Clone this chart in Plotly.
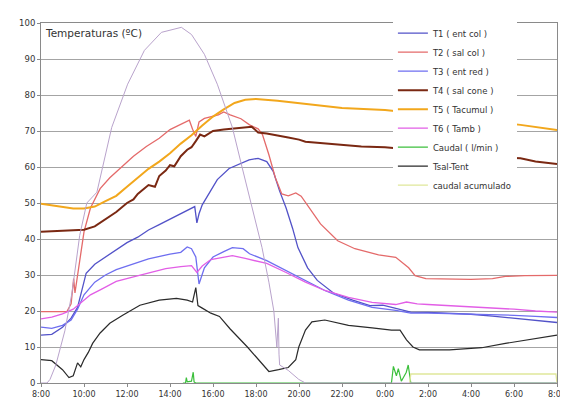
import plotly.graph_objects as go

# ---- data (hours since 0:00 of day 1; values in degC / l/min) ----
tick_vals = [8, 10, 12, 14, 16, 18, 20, 22, 24, 26, 28, 30, 32]
tick_text = ["8:00", "10:00", "12:00", "14:00", "16:00", "18:00", "20:00",
             "22:00", "0:00", "2:00", "4:00", "6:00", "8:00"]

rad_t = [8.0, 8.28, 8.42, 8.69, 9.11, 9.44, 9.8, 10.13, 10.6, 11.29, 12.03, 12.81,
         13.6, 14.2, 14.53, 15.0, 15.6, 16.2, 16.9, 17.35, 17.8, 18.28, 18.6, 18.83,
         18.97, 19.04, 19.07, 19.1, 19.5, 19.99, 20.3, 32.0]
rad_v = [0, 0, 1, 5, 14.5, 25, 41, 50, 53, 71, 83, 92.4,
         97.4, 98.2, 98.8, 96.8, 91.3, 83, 71, 60, 49, 37.6, 28, 20,
         10, 18, 8, 5, 3.5, 1, 0, 0]

t1_t = [8.0, 8.5, 9.0, 9.4, 9.7, 9.9, 10.1, 10.5, 11.0, 11.5, 12.0, 12.5, 13.0, 13.5,
        14.0, 14.5, 15.0, 15.15, 15.25, 15.35, 15.5, 15.8, 16.2, 16.75, 17.2, 17.68,
        18.1, 18.5, 18.8, 19.1, 19.4, 19.7, 19.95, 20.4, 20.85, 21.6, 22.5, 23.3,
        23.9, 24.6, 25.2, 26, 27, 28, 29, 30, 31, 32]
t1_v = [13.3, 13.5, 15.5, 18, 21, 26, 30.5, 33, 35, 37, 39, 40.5, 42.5, 44,
        45.5, 47, 48.5, 49, 44.5, 47, 49.5, 52.5, 56.5, 59.6, 60.7, 62,
        62.4, 61.5, 58.8, 53.3, 48.6, 43, 37.6, 32, 28.5, 25, 23, 21.5,
        21.6, 20.5, 19.7, 19.6, 19.4, 19.1, 18.6, 18.0, 17.4, 16.8]

t2_t = [8.0, 8.5, 9.0, 9.2, 9.4, 9.52, 9.58, 9.75, 10.0, 10.3, 10.75, 11.2, 11.75,
        12.3, 12.9, 13.5, 14.0, 14.6, 14.9, 15.05, 15.2, 15.35, 15.6, 16.25, 16.5,
        16.8, 17.3, 17.7, 18.1, 18.3, 18.6, 18.9, 19.2, 19.5, 19.85, 20.1, 20.6,
        21.0, 21.8, 22.6, 23.7, 24.5, 25.1, 25.4, 25.9, 27, 28, 29, 29.6, 30.5, 32]
t2_v = [19.8, 19.8, 19.8, 19.8, 22, 29, 25, 32, 42, 48.6, 54, 57, 60,
        63, 65.7, 68, 70.4, 72, 73, 70.5, 68.5, 72.5, 73.5, 74.5, 75.3,
        74.5, 73.4, 71.7, 70.6, 69, 63.4, 57, 52.5, 52, 52.8, 51.9, 47.8,
        44.2, 39.5, 37.3, 35.6, 34.9, 32, 29.8, 29, 28.9, 28.8, 29, 29.6, 29.8, 29.9]

t3_t = [8.0, 8.5, 9.0, 9.4, 9.7, 10.0, 10.5, 11.0, 11.5, 12.0, 13.0, 14.0, 14.5, 14.8,
        15.0, 15.2, 15.35, 15.6, 16.0, 16.5, 16.9, 17.4, 17.7, 18.5, 19.4, 20.3,
        21.2, 22.3, 23.4, 24.5, 25.2, 26, 27, 28, 29, 30, 31, 32]
t3_v = [15.5, 15.2, 16, 17.5, 20.5, 24.5, 28, 30, 31.5, 32.5, 34.5, 35.8, 36.3, 37.8,
        37.3, 35, 27.5, 32, 35, 36.5, 37.6, 37.3, 35.9, 34, 31.3, 28.5,
        25.7, 23, 21, 20.2, 19.4, 19.4, 19.3, 19.2, 19.0, 18.8, 18.5, 18.2]

t4_t = [8.0, 8.5, 9.0, 9.5, 10.0, 10.5, 11.0, 11.5, 12.0, 12.3, 12.5, 13.0, 13.3, 13.5,
        13.8, 14.0, 14.2, 14.5, 14.8, 15.0, 15.2, 15.4, 15.6, 16.0, 16.5, 17.0, 17.5,
        17.8, 18.1, 18.5, 19.5, 20.0, 20.3, 21.4, 22.9, 24.0, 25, 26, 27, 28, 29,
        30.3, 31, 32]
t4_v = [42, 42.2, 42.2, 42.4, 42.6, 43.5, 45.5, 47.5, 50, 51, 52.5, 55, 54.5, 57.5,
        59, 60.5, 60.2, 63, 64.8, 65.5, 67.2, 69, 68.5, 70, 70.4, 70.7, 71,
        71.2, 69.6, 69.3, 68.2, 67.6, 67, 66.5, 65.7, 65.5, 65, 64.5, 64, 63.5, 62.8,
        62.4, 61.5, 60.8]

t5_t = [8.0, 8.5, 9.0, 9.5, 10.0, 10.5, 11.0, 11.5, 12.0, 12.5, 13.0, 13.5, 14.0, 14.5,
        15.0, 15.5, 16.0, 16.5, 17.0, 17.5, 18.0, 19.0, 20.0, 21.0, 22.0, 24.0, 26.0,
        28.0, 30.3, 32.0]
t5_v = [49.8, 49.3, 48.8, 48.5, 48.5, 49, 50.5, 52, 54.5, 57, 59.5, 61.5, 63.8, 66.5,
        68.8, 71.5, 74, 76, 77.8, 78.7, 78.9, 78.4, 77.7, 77, 76.4, 75.8, 74.6,
        73.3, 71.7, 70.3]

t6_t = [8.0, 8.5, 9.0, 9.5, 9.8, 10.3, 10.8, 11.5, 12.3, 13.0, 13.8, 14.5, 15.0, 15.25,
        15.5, 15.9, 16.5, 16.9, 17.5, 18.5, 19.4, 20.3, 21.2, 22.3, 23.4, 24.5, 25,
        25.5, 26, 27, 28, 29, 30, 31, 32]
t6_v = [17.8, 18.3, 19.2, 20.5, 22, 24.5, 26, 28.2, 29.5, 30.5, 31.8, 32.3, 32.6, 30.7,
        32.5, 34.3, 35, 35.4, 34.6, 33.2, 30.7, 28, 25.7, 23.8, 22.4, 21.8, 22.5,
        22, 21.8, 21.5, 21, 20.8, 20.5, 20, 19.7]

caudal_t = [14.6, 14.72, 14.76, 14.8, 15.0, 15.08, 15.12, 15.2, 24.3, 24.39, 24.53,
            24.62, 24.76, 24.99, 25.08, 25.2, 32.0]
caudal_v = [0, 0, 1.5, 0.3, 0.5, 3, 0.3, 0, 0, 4.6, 2, 4, 0.5, 3, 5, 0, 0]

acum_t = [25.15, 25.2, 31.95, 32.0]
acum_v = [0, 2.5, 2.5, 0]

tsal_t = [8.0, 8.5, 9.0, 9.3, 9.5, 9.7, 9.85, 10.0, 10.2, 10.4, 10.75, 11.2, 11.8,
          12.6, 13.5, 14.3, 14.8, 15.05, 15.2, 15.3, 15.5, 15.9, 16.3, 16.8, 17.6,
          18.1, 18.6, 19.05, 19.5, 19.85, 19.99, 20.3, 20.6, 21.2, 22.3, 23.4, 24.3,
          24.7, 25.0, 25.3, 25.6, 27, 28.5, 29.6, 31, 32]
tsal_v = [6.5, 6.2, 3.7, 1.5, 2.0, 5.6, 4.5, 6.5, 8.5, 11, 13.9, 16.6, 18.8,
          21.6, 23, 23.5, 23, 22.5, 26.5, 21.5, 20.8, 19.4, 18.5, 15, 10,
          6.5, 3.2, 3.7, 4.3, 6.5, 10, 14.7, 17, 17.5, 16, 15.3, 14.7,
          14.7, 12, 10, 9.2, 9.2, 9.8, 11, 12.3, 13.3]

FONT = "DejaVu Sans, Verdana, sans-serif"

fig = go.Figure()

series = [
    ("T1 ( ent col )", t1_t, t1_v, "#5252c8", 1.3),
    ("T2 ( sal col )", t2_t, t2_v, "#e46a6a", 1.3),
    ("T3 ( ent red )", t3_t, t3_v, "#6e6ef0", 1.3),
    ("T4 ( sal cone )", t4_t, t4_v, "#7a2812", 2.0),
    ("T5 ( Tacumul )", t5_t, t5_v, "#f2a71c", 2.0),
    ("T6 ( Tamb )", t6_t, t6_v, "#e25ee6", 1.3),
    ("Caudal ( l/min )", caudal_t, caudal_v, "#3cbf3c", 1.2),
    ("Tsal-Tent", tsal_t, tsal_v, "#2a2a2a", 1.2),
    ("caudal acumulado", acum_t, acum_v, "#dfe79a", 1.3),
]
for name, xs, ys, col, w in series:
    fig.add_trace(go.Scatter(x=xs, y=ys, mode="lines", name=name,
                             line=dict(color=col, width=w)))

# light curve without legend entry
fig.add_trace(go.Scatter(x=rad_t, y=rad_v, mode="lines", showlegend=False,
                         name="curva", line=dict(color="#b9a3cc", width=1)))

fig.add_annotation(text="Temperaturas (ºC)", xref="paper", yref="paper",
                   x=0.004, y=0.995, xanchor="left", yanchor="top", showarrow=False,
                   font=dict(size=10.5, color="#333333", family=FONT))

fig.update_layout(
    width=568, height=403,
    margin=dict(l=33, r=11, t=10, b=28),
    paper_bgcolor="white", plot_bgcolor="white",
    font=dict(family=FONT, size=8, color="#333333"),
    showlegend=True,
    legend=dict(x=0.682, y=1.012, xanchor="left", yanchor="top",
                bgcolor="white", borderwidth=0, itemwidth=30, traceorder="normal",
                font=dict(size=8.5, color="#333333", family=FONT), tracegroupgap=0),
    xaxis=dict(range=[8, 32], tickvals=tick_vals, ticktext=tick_text,
               showgrid=False, zeroline=False, showline=True, linecolor="#8a8a8a",
               mirror=True, ticks="outside", ticklen=3, tickcolor="#8a8a8a",
               tickfont=dict(size=8, color="#333333", family=FONT)),
    yaxis=dict(range=[0, 100], dtick=10, showgrid=True, gridcolor="#a4a4a4",
               gridwidth=1, zeroline=False, showline=True, linecolor="#8a8a8a",
               mirror=True, ticks="outside", ticklen=3, tickcolor="#8a8a8a",
               tickfont=dict(size=8.5, color="#333333", family=FONT)),
)

fig.write_html("out.html")
